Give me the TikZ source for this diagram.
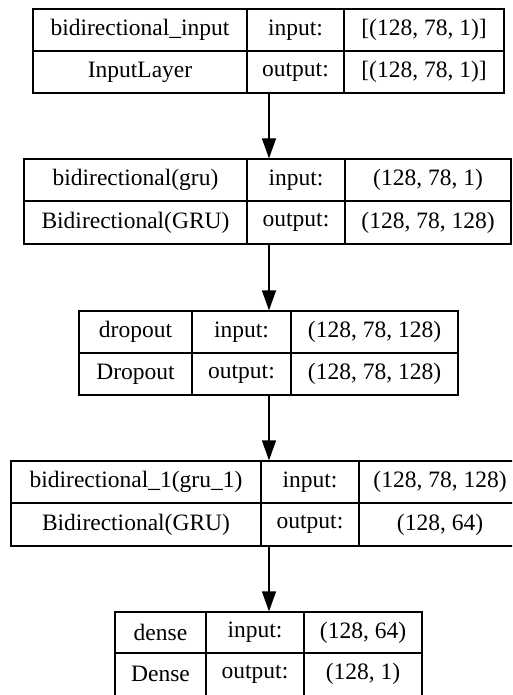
\documentclass[tikz,border=0pt]{standalone}
\usepackage{fontspec}
\setmainfont{Liberation Serif}
\usetikzlibrary{arrows.meta}
\tikzset{
  box/.style={draw, line width=1.2pt, inner sep=0pt, fill=white},
  sep/.style={line width=1.2pt},
  txt/.style={inner sep=0pt, font=\fontsize{23.5}{26}\selectfont, anchor=center},
  arr/.style={line width=1.2pt, -{Triangle[length=20pt,width=14pt]}}
}
\newcommand{\layerbox}[9]{%
  % #1 name, #2 x0, #3 d1, #4 d2, #5 x1, #6 y0, #7 ym, #8 y1
  \node[box, minimum width={(#5-#2)*1pt}, minimum height={(#8-#6)*1pt}] (#1) at ({(#2+#5)/2},{(#6+#8)/2}) {};
  \draw[sep] (#2,#7) -- (#5,#7);
  \draw[sep] (#3,#6) -- (#3,#8);
  \draw[sep] (#4,#6) -- (#4,#8);
}
\begin{document}
\begin{tikzpicture}[x=1pt,y=-1pt]
\useasboundingbox (0,0) rectangle (512,695);
\clip (0,0) rectangle (512,695);
\fill[white] (0,0) rectangle (512,695);

% Layer 1
\layerbox{b1}{33}{247}{344}{504}{9}{51}{93}{}
\node[txt] (b1a) at (140,30) {bidirectional\_input};
\node[txt] (b1b) at (295.5,30) {input:};
\node[txt] (b1c) at (424,30) {[(128, 78, 1)]};
\node[txt] (b1d) at (140,72) {InputLayer};
\node[txt] (b1e) at (295.5,72) {output:};
\node[txt] (b1f) at (424,72) {[(128, 78, 1)]};

% Layer 2
\layerbox{b2}{24}{247}{345}{511}{159}{201}{244}{}
\node[txt] (b2a) at (135.5,180) {bidirectional(gru)};
\node[txt] (b2b) at (296,180) {input:};
\node[txt] (b2c) at (428,180) {(128, 78, 1)};
\node[txt] (b2d) at (135.5,222.5) {Bidirectional(GRU)};
\node[txt] (b2e) at (296,222.5) {output:};
\node[txt] (b2f) at (428,222.5) {(128, 78, 128)};

% Layer 3
\layerbox{b3}{79}{192}{291}{458}{311}{353}{395}{}
\node[txt] (b3a) at (135.5,332) {dropout};
\node[txt] (b3b) at (241.5,332) {input:};
\node[txt] (b3c) at (374.5,332) {(128, 78, 128)};
\node[txt] (b3d) at (135.5,374) {Dropout};
\node[txt] (b3e) at (241.5,374) {output:};
\node[txt] (b3f) at (374.5,374) {(128, 78, 128)};

% Layer 4
\layerbox{b4}{11}{261}{359}{527}{461}{503}{546}{}
\node[txt] (b4a) at (136,482) {bidirectional\_1(gru\_1)};
\node[txt] (b4b) at (310,482) {input:};
\node[txt] (b4c) at (440,482) {(128, 78, 128)};
\node[txt] (b4d) at (136,524.5) {Bidirectional(GRU)};
\node[txt] (b4e) at (310,524.5) {output:};
\node[txt] (b4f) at (440,524.5) {(128, 64)};

% Layer 5
\layerbox{b5}{115}{206}{304}{422}{612}{653}{698}{}
\node[txt] (b5a) at (160.5,632.5) {dense};
\node[txt] (b5b) at (255,632.5) {input:};
\node[txt] (b5c) at (363,632.5) {(128, 64)};
\node[txt] (b5d) at (160.5,674) {Dense};
\node[txt] (b5e) at (255,674) {output:};
\node[txt] (b5f) at (363,674) {(128, 1)};

% Arrows
\coordinate (ax) at (269,0);
\draw[arr] (b1.south -| ax) -- (b2.north -| ax);
\draw[arr] (b2.south -| ax) -- (b3.north -| ax);
\draw[arr] (b3.south -| ax) -- (b4.north -| ax);
\draw[arr] (b4.south -| ax) -- (b5.north -| ax);
\end{tikzpicture}
\end{document}
